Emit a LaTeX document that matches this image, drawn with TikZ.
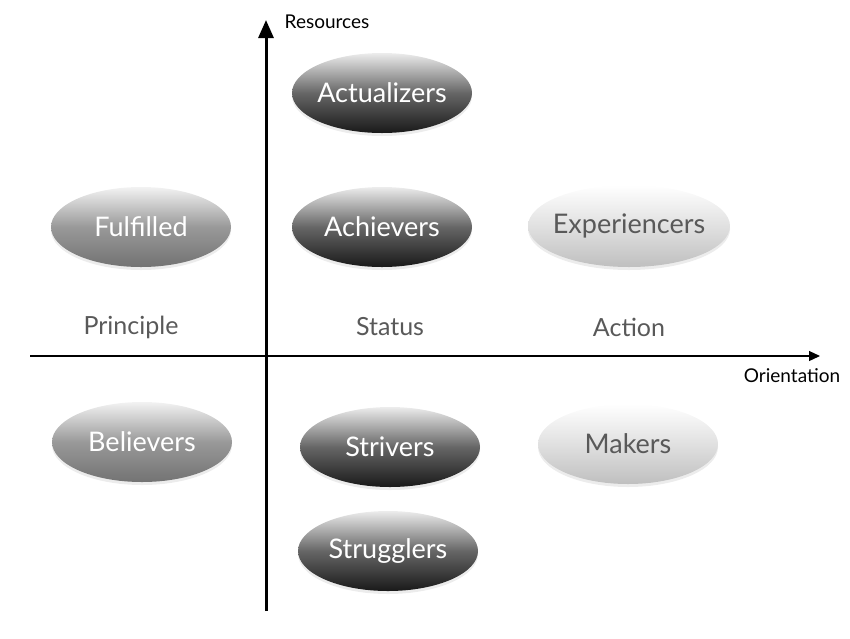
\documentclass[tikz,border=0pt]{standalone}
\usepackage{fontspec}
\setmainfont{Lato}
\usepackage{tikz}
\usetikzlibrary{shapes.geometric, arrows.meta, shadows}

\begin{document}
\begin{tikzpicture}[x=1pt, y=-1pt, >={Triangle[width=15pt,length=18pt]},
    seg/.style={ellipse, minimum width=180pt, minimum height=80pt, inner ysep=0pt, inner xsep=-20pt,
        font=\fontsize{27}{27}\selectfont, drop shadow={opacity=0.15, shadow xshift=0pt, shadow yshift=-3pt}},
    dark/.style={seg, text=white, top color=gray!15, bottom color=black!90, middle color=black!60},
    mid/.style={seg, text=white, top color=gray!10, bottom color=black!55, middle color=black!40},
    light/.style={seg, text=black!65, top color=white, bottom color=black!25, middle color=black!12},
    quad/.style={text=black!65, font=\fontsize{25}{25}\selectfont},
    axlabel/.style={font=\fontsize{19}{19}\selectfont}]
    \useasboundingbox (0,0) rectangle (850,638);
    % axes
    \coordinate (o) at (266,356);
    \coordinate (top) at (266,20);
    \coordinate (bot) at (266,611);
    \coordinate (left) at (30,356);
    \coordinate (right) at (820,356);
    \draw[->, line width=3pt] (bot) -- (top);
    \draw[->, line width=1.2pt, >={Triangle[width=10pt,length=11pt]}] (left) -- (right);
    \node[axlabel] (res) at (327,22) {Resources};
    \node[axlabel] (ori) at (792,376) {Orientation};
    % segments
    \node[dark] (act) at (382,93) {Actualizers};
    \node[mid] (ful) at (141,227) {Fulfilled};
    \node[dark] (ach) at (382,227) {Achievers};
    \node[light, minimum width=202pt, minimum height=82pt] (exp) at (629,226) {Experiencers};
    \node[mid] (bel) at (142,442) {Believers};
    \node[dark] (str) at (390,447) {Strivers};
    \node[light] (mak) at (628,444) {Makers};
    \node[dark] (stg) at (388,551) {Strugglers};
    % orientations
    \node[quad] (pri) at (131,327) {Principle};
    \node[quad] (sta) at (390,327) {Status};
    \node[quad] (acn) at (629,327) {Action};
\end{tikzpicture}
\end{document}
